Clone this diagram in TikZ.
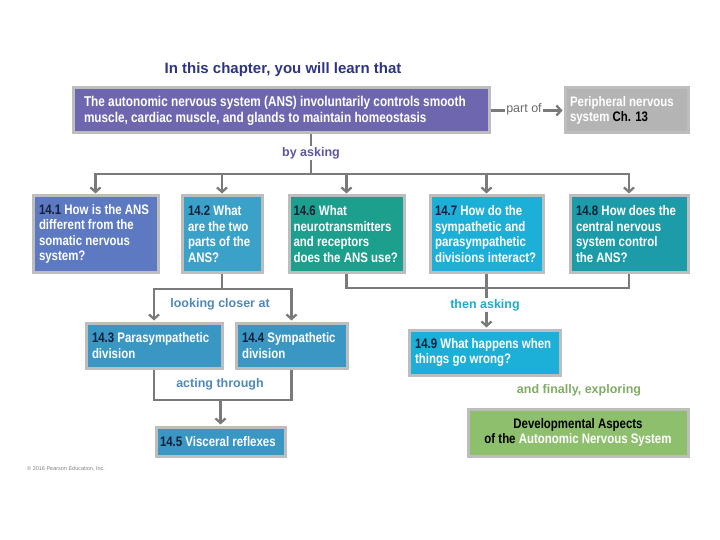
\documentclass[tikz,border=0pt]{standalone}
\usepackage{fontspec}
\setmainfont{Liberation Sans}[FakeStretch=0.83]
\newfontfamily\lblfont{Liberation Sans}
\usetikzlibrary{arrows.meta}
\definecolor{titlecol}{HTML}{2F3482}
\definecolor{mainfill}{HTML}{6E67AF}
\definecolor{askcol}{HTML}{5B55A2}
\definecolor{perfill}{HTML}{B4B4B4}
\definecolor{bordcol}{HTML}{BDBDBD}
\definecolor{numcol}{HTML}{15203A}
\definecolor{fillA}{HTML}{5C79C2}
\definecolor{fillB}{HTML}{3AA2C9}
\definecolor{fillC}{HTML}{1CA08D}
\definecolor{fillD}{HTML}{1CB0D8}
\definecolor{fillE}{HTML}{1B9CA8}
\definecolor{fillF}{HTML}{3A97C4}
\definecolor{devfill}{HTML}{8DBF6C}
\definecolor{lookcol}{HTML}{4F88B8}
\definecolor{thencol}{HTML}{1EABCF}
\definecolor{fincol}{HTML}{7FAB64}
\definecolor{conncol}{HTML}{7A7A7A}
\definecolor{partcol}{HTML}{6A6A6A}
\newcommand\nm[1]{\textcolor{numcol}{#1}}
\begin{document}
\begin{tikzpicture}[x=1pt,y=-1pt,
  box/.style={draw=bordcol, line width=3pt, inner sep=0pt, text=white, align=flush left,
    anchor=north west, font=\bfseries\fontsize{13.8}{15.5}\selectfont},
  lbl/.style={inner sep=1pt, font=\lblfont\bfseries\fontsize{12.5}{14}\selectfont},
  conn/.style={draw=conncol, line width=2.3pt},
  arr/.style={conn, -{Straight Barb[length=4.5pt,width=10pt]}, shorten >=1pt}]
\useasboundingbox (0,0) rectangle (720,540);

\node[lbl, text=titlecol, font=\lblfont\bfseries\fontsize{15}{18}\selectfont] (title) at (283,70) {In this chapter, you will learn that};

\node[box, fill=mainfill, minimum width=416pt, minimum height=45pt, text width=394pt, font=\bfseries\fontsize{14.2}{16}\selectfont] (main) at (71.5,86.5)
  {The autonomic nervous system (ANS) involuntarily controls smooth\\muscle, cardiac muscle, and glands to maintain homeostasis};
\node[box, fill=perfill, minimum width=123pt, minimum height=45pt, text width=113pt] (periph) at (563.5,86.5)
  {Peripheral nervous\\system \textcolor{black}{Ch. 13}};

\node[box, fill=fillA, minimum width=125pt, minimum height=76pt, text width=113pt] (q1) at (31.5,194.5)
  {\nm{14.1} How is the ANS\\different from the\\somatic nervous\\system?};
\node[box, fill=fillB, minimum width=80pt, minimum height=76pt, text width=68pt] (q2) at (180.5,194.5)
  {\nm{14.2} What\\are the two\\parts of the\\ANS?};
\node[box, fill=fillC, minimum width=115pt, minimum height=76pt, text width=106pt] (q6) at (287.5,194.5)
  {\nm{14.6} What\\neurotransmitters\\and receptors\\does the ANS use?};
\node[box, fill=fillD, minimum width=113pt, minimum height=76pt, text width=103pt] (q7) at (428.5,194.5)
  {\nm{14.7} How do the\\sympathetic and\\parasympathetic\\divisions interact?};
\node[box, fill=fillE, minimum width=118pt, minimum height=76pt, text width=106pt] (q8) at (568.5,194.5)
  {\nm{14.8} How does the\\central nervous\\system control\\the ANS?};

\node[box, fill=fillF, minimum width=136pt, minimum height=45pt, text width=124pt] (q3) at (84.5,321.5)
  {\nm{14.3} Parasympathetic\\division};
\node[box, fill=fillF, minimum width=111pt, minimum height=45pt, text width=99pt] (q4) at (234.5,321.5)
  {\nm{14.4} Sympathetic\\division};
\node[box, fill=fillF, minimum width=129pt, minimum height=29pt, text width=121pt] (q5) at (154.5,425.5)
  {\nm{14.5} Visceral reflexes};
\node[box, fill=fillD, minimum width=151pt, minimum height=45pt, text width=139pt] (q9) at (407.5,328.5)
  {\nm{14.9} What happens when\\things go wrong?};
\node[box, fill=devfill, minimum width=220pt, minimum height=47pt, text width=212pt, align=flush center] (dev) at (466.5,407.5)
  {\textcolor{black}{Developmental Aspects}\\\textcolor{black}{of the} Autonomic Nervous System};

% part of
\node[lbl, text=partcol, font=\lblfont\fontsize{12.5}{14}\selectfont] (partof) at (524,109) {part of};
\draw[conn] (main.east) -- (main.east -| partof.west);
\draw[arr] (partof.east |- periph.west) -- (periph.west);

% by asking
\node[lbl, text=askcol] (byask) at (311,153) {by asking};
\coordinate (bus1) at (311,174);
\draw[conn] (main.south -| byask) -- (byask.north);
\draw[conn] (byask.south) -- (bus1);
\draw[arr] (bus1) -| (q1.north);
\draw[arr] (bus1) -| (q8.north);
\draw[arr] (q2.north |- bus1) -- (q2.north);
\draw[arr] (q6.north |- bus1) -- (q6.north);
\draw[arr] (q7.north |- bus1) -- (q7.north);

% looking closer at
\coordinate (bus2) at (221,289);
\draw[conn] (q2.south) -- (q2.south |- bus2);
\draw[arr] (q2.south |- bus2) -| (q3.north);
\draw[arr] (q2.south |- bus2) -| (q4.north);
\node[lbl, text=lookcol] (look) at (220,304) {looking closer at};

% acting through
\coordinate (bus3) at (221,400);
\draw[conn] (q3.south) -- (q3.south |- bus3) -- (q4.south |- bus3) -- (q4.south);
\draw[arr] (q5.north |- bus3) -- (q5.north);
\node[lbl, text=lookcol] (acting) at (220,384) {acting through};

% then asking
\coordinate (bus4) at (485,288);
\draw[conn] (q6.south) -- (q6.south |- bus4) -- (q8.south |- bus4) -- (q8.south);
\draw[conn] (q7.south) -- (q7.south |- bus4);
\node[lbl, text=thencol] (thenask) at (485,305) {then asking};
\draw[conn] (q7.south |- bus4) -- (q7.south |- thenask.north);
\draw[arr] (q7.south |- thenask.south) -- (q7.south |- q9.north);

\node[lbl, text=fincol] (finally) at (579,390) {and finally, exploring};

\node[anchor=west, inner sep=0pt, text=gray, font=\lblfont\fontsize{5.5}{6}\selectfont] (copy) at (27,469) {\textcopyright{} 2016 Pearson Education, Inc.};
\end{tikzpicture}
\end{document}
